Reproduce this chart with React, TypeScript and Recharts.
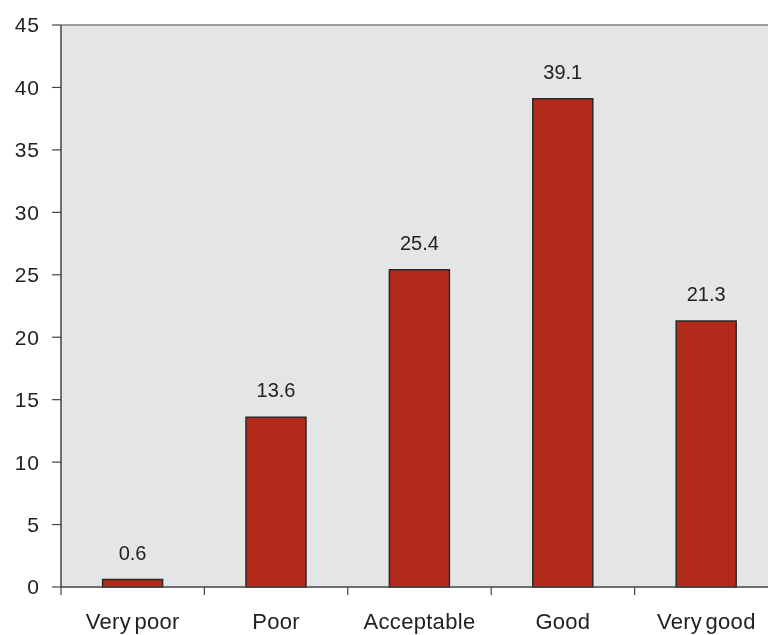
import { BarChart, Bar, XAxis, YAxis, CartesianGrid, LabelList, ReferenceLine } from "recharts"

const categories = ["Very poor", "Poor", "Acceptable", "Good", "Very good"]
const percentages = [0.6, 13.6, 25.4, 39.1, 21.3]
const yTicks = [0, 5, 10, 15, 20, 25, 30, 35, 40, 45]

const data = categories.map((name, i) => ({ name, value: percentages[i] }))

const font = "'Liberation Sans', Arial, sans-serif"
const axisColor = "#444"
const labelMargin = 26

// category label plus the small separator marks that sit between categories
function CategoryTick(props: any) {
  const { x, y, payload, index } = props
  const half = payload.offset ?? 0
  const axisY = y - labelMargin
  return (
    <g>
      <line x1={x - half} x2={x - half} y1={axisY} y2={axisY + 8} stroke={axisColor} strokeWidth={1.2} />
      {index === categories.length - 1 && (
        <line x1={x + half} x2={x + half} y1={axisY} y2={axisY + 8} stroke={axisColor} strokeWidth={1.2} />
      )}
      <text
        x={x}
        y={y}
        dy="0.71em"
        textAnchor="middle"
        fill="#222"
        fontSize={22}
        fontFamily={font}
        letterSpacing={0.3}
        wordSpacing={-3}
      >
        {payload.value}
      </text>
    </g>
  )
}

export default function App() {
  return (
    <div style={{ position: "fixed", left: 0, top: 0, width: 768, height: 635, overflow: "hidden", fontFamily: font }}>
      <BarChart
        width={788}
        height={635}
        data={data}
        margin={{ top: 25, right: 10, left: 0, bottom: 8 }}
        barCategoryGap="29%"
      >
        <CartesianGrid horizontal={false} vertical={false} fill="#e4e5e7" />
        <ReferenceLine y={45} stroke="#808080" strokeWidth={1.5} />
        <XAxis
          dataKey="name"
          axisLine={{ stroke: axisColor, strokeWidth: 1.5 }}
          tickLine={false}
          tickSize={0}
          tickMargin={labelMargin}
          height={40}
          interval={0}
          tick={<CategoryTick />}
        />
        <YAxis
          domain={[0, 45]}
          ticks={yTicks}
          width={61}
          tickSize={9}
          tickMargin={12}
          interval={0}
          axisLine={{ stroke: axisColor, strokeWidth: 1.5 }}
          tickLine={{ stroke: axisColor, strokeWidth: 1.2 }}
          tick={{ fill: "#222", fontSize: 21, fontFamily: font, letterSpacing: 1 }}
        />
        <Bar dataKey="value" fill="#b22a1a" stroke="#2a2a2a" strokeWidth={1.5} isAnimationActive={false}>
          <LabelList dataKey="value" position="top" offset={20} fill="#222" fontSize={20} fontFamily={font} />
        </Bar>
      </BarChart>
    </div>
  )
}
